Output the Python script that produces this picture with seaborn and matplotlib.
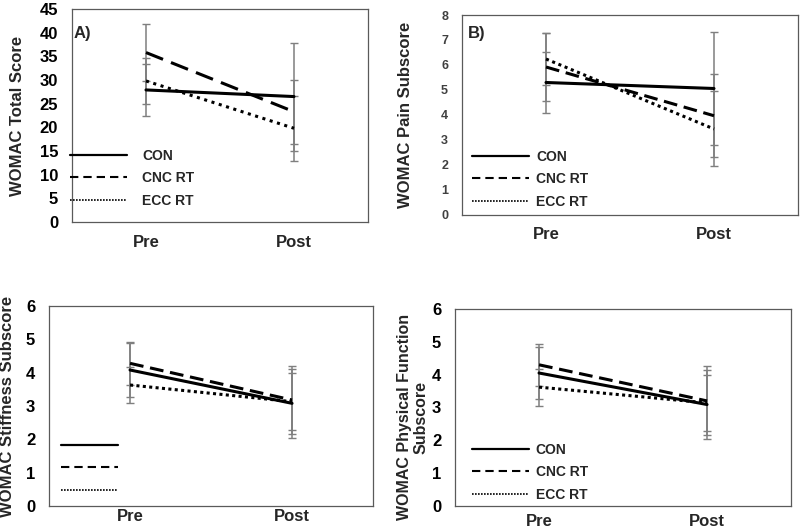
"""
womac_panels.py

Four-panel WOMAC chart: group means (CON, CNC RT, ECC RT) pre and post,
with SD error bars.
"""

import pandas as pd
import matplotlib
matplotlib.use("Agg")
import matplotlib.pyplot as plt
from matplotlib.lines import Line2D
import seaborn as sns

#%%
# data (means and SDs)

times = ["Pre", "Post"]
groups = ["CON", "CNC RT", "ECC RT"]

# Panel A - WOMAC total score
total_con = [27.9, 26.5]
total_cnc = [35.8, 23.3]
total_ecc = [29.8, 19.8]
total_con_sd = [5.5, 11.4]
total_cnc_sd = [6.0, 6.8]
total_ecc_sd = [4.9, 6.9]

# Panel B - pain subscore
pain_con = [5.30, 5.06]
pain_cnc = [5.92, 3.97]
pain_ecc = [6.24, 3.44]
pain_con_sd = [1.21, 2.26]
pain_cnc_sd = [1.35, 1.66]
pain_ecc_sd = [1.06, 1.50]

# Panel C - stiffness subscore
stiff_con = [4.08, 3.08]
stiff_cnc = [4.28, 3.18]
stiff_ecc = [3.63, 3.13]
stiff_con_sd = [0.80, 1.03]
stiff_cnc_sd = [0.65, 1.03]
stiff_ecc_sd = [0.55, 0.85]

# Panel D - physical function subscore
func_con = [4.05, 3.09]
func_cnc = [4.30, 3.20]
func_ecc = [3.62, 3.14]
func_con_sd = [0.80, 1.04]
func_cnc_sd = [0.64, 1.05]
func_ecc_sd = [0.56, 0.85]

#%%
# style

sns.set_style("white")
plt.rcParams["font.family"] = ["Liberation Sans", "DejaVu Sans"]
plt.rcParams["font.weight"] = "bold"
plt.rcParams["axes.labelweight"] = "bold"

fig = plt.figure(figsize=(8, 5.32), dpi=100)


def draw_panel(rect, means, sds, ylim, ystep, ylabel, label_xy,
               dash, dot, tick_color="black", tick_size=12, xpad=9,
               legend_xy=None, legend_labels=True, text_pad=0.6, tag=None):
    ax = fig.add_axes(rect)

    # long-form table for seaborn
    rows = []
    for g, m in zip(groups, means):
        for t, v in zip(times, m):
            rows.append({"time": t, "score": v, "group": g})
    df = pd.DataFrame(rows)

    # SD error bars (grey, behind the lines)
    for m, s in zip(means, sds):
        ax.errorbar(times, m, yerr=s, fmt="none", ecolor="#7f7f7f",
                    elinewidth=1.1, capsize=2.6, capthick=1.0, zorder=1)

    sns.lineplot(data=df, x="time", y="score", style="group",
                 style_order=groups, sort=False, errorbar=None,
                 dashes={"CON": "", "CNC RT": dash, "ECC RT": dot},
                 color="black", linewidth=2.2, legend=False, ax=ax, zorder=3)

    ax.set_xlim(-0.5, 1.5)
    ax.set_ylim(*ylim)
    ax.set_yticks(range(int(ylim[0]), int(ylim[1]) + 1, ystep))
    ax.set_xlabel("")
    ax.set_ylabel(ylabel, fontsize=12 if "\n" not in ylabel else 11.5,
                  fontweight="bold", linespacing=1.15)
    ax.yaxis.set_label_coords(*label_xy)

    ax.tick_params(axis="y", length=0, pad=10, labelsize=tick_size,
                   labelcolor=tick_color)
    ax.tick_params(axis="x", length=0, pad=xpad, labelsize=12)
    for sp in ax.spines.values():
        sp.set_color("#5a5a5a")
        sp.set_linewidth(0.9)

    if tag:
        ax.text(tag[0], tag[1], tag[2], transform=ax.transAxes,
                fontsize=12, fontweight="bold", va="center", ha="left")

    if legend_xy is not None:
        handles = [
            Line2D([], [], color="black", linewidth=1.6),
            Line2D([], [], color="black", linewidth=1.5, dashes=(4, 2.4)),
            Line2D([], [], color="black", linewidth=1.2, dashes=(1, 0.8)),
        ]
        labels = groups if legend_labels else ["", "", ""]
        ax.legend(handles, labels, loc="upper left", bbox_to_anchor=legend_xy,
                  frameon=False, fontsize=10, handlelength=4.1,
                  handletextpad=text_pad, labelspacing=0.6, borderpad=0,
                  borderaxespad=0)
    return ax


# Panel A
draw_panel([0.09, 0.5827, 0.37, 0.4004],
           [total_con, total_cnc, total_ecc],
           [total_con_sd, total_cnc_sd, total_ecc_sd],
           (0, 45), 5, "WOMAC Total Score", (-0.159, 0.5),
           dash=(6, 2.8), dot=(1, 1.5), xpad=9,
           legend_xy=(-0.007, 0.343), text_pad=1.1,
           tag=(0.007, 0.887, "A)"))

# Panel B
draw_panel([0.5775, 0.5959, 0.42, 0.3759],
           [pain_con, pain_cnc, pain_ecc],
           [pain_con_sd, pain_cnc_sd, pain_ecc_sd],
           (0, 8), 1, "WOMAC Pain Subscore", (-0.146, 0.5),
           dash=(4.5, 2.2), dot=(1, 1.2), tick_color="#404040", tick_size=9,
           xpad=9, legend_xy=(0.03, 0.325), text_pad=0.5,
           tag=(0.018, 0.91, "B)"))

# Panel C
draw_panel([0.0613, 0.0489, 0.405, 0.3759],
           [stiff_con, stiff_cnc, stiff_ecc],
           [stiff_con_sd, stiff_cnc_sd, stiff_ecc_sd],
           (0, 6), 1, "WOMAC Stiffness Subscore", (-0.105, 0.5),
           dash=(4.5, 2.2), dot=(1, 1.1), xpad=2,
           legend_xy=(0.037, 0.335), legend_labels=False)

# Panel D
draw_panel([0.5688, 0.0489, 0.42, 0.3703],
           [func_con, func_cnc, func_ecc],
           [func_con_sd, func_cnc_sd, func_ecc_sd],
           (0, 6), 1, "WOMAC Physical Function\nSubscore", (-0.078, 0.45),
           dash=(4.5, 2.2), dot=(1, 1.1), xpad=6,
           legend_xy=(0.05, 0.32), text_pad=0.5)

fig.savefig("out.png", dpi=100)
